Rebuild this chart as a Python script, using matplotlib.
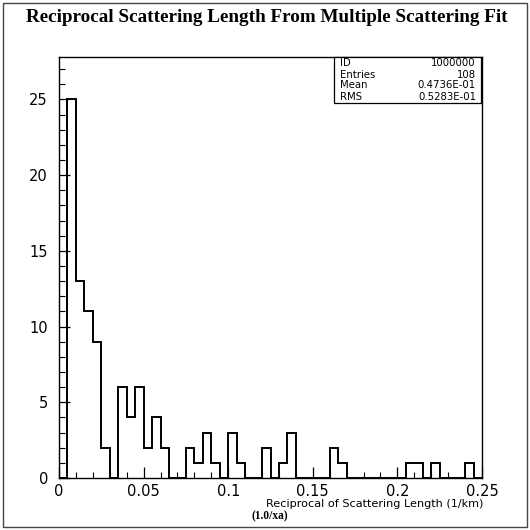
import numpy as np
import matplotlib.pyplot as plt
from matplotlib.patches import Rectangle

# contenido de cada bin (ancho 0.005, de 0 a 0.25)
cuentas = [0, 25, 13, 11, 9, 2, 0, 6, 4, 6,
           2, 4, 2, 0, 0, 2, 1, 3, 1, 0,
           3, 1, 0, 0, 2, 0, 1, 3, 0, 0,
           0, 0, 2, 1, 0, 0, 0, 0, 0, 0,
           0, 1, 1, 0, 1, 0, 0, 0, 1, 0]
x_min, x_max = 0.0, 0.25
etiquetas_x = ['0', '0.05', '0.1', '0.15', '0.2', '0.25']
ticks_x = [0, 0.05, 0.1, 0.15, 0.2, 0.25]
ticks_y = [0, 5, 10, 15, 20, 25]
estadisticas = [('ID', '1000000'), ('Entries', '108'),
                ('Mean', '0.4736E-01'), ('RMS', '0.5283E-01')]

W = 530.0
fig = plt.figure(figsize=(5.3, 5.3), dpi=100)
fig.patch.set_facecolor('white')

# marco exterior
fig.add_artist(Rectangle((3 / W, 3 / W), 524 / W, 524 / W, transform=fig.transFigure,
                         fill=False, edgecolor='#444444', linewidth=1.0))

ax = fig.add_axes([59 / W, 1 - 478 / W, 423 / W, 421 / W])
bordes = np.linspace(x_min, x_max, len(cuentas) + 1)
ax.stairs(cuentas, bordes, color='black', linewidth=1.4, baseline=None)

ax.set_xlim(x_min, x_max)
ax.set_ylim(0, 27.8)
ax.set_xticks(ticks_x)
ax.set_xticklabels(etiquetas_x)
ax.set_xticks(np.arange(0, 0.2501, 0.01), minor=True)
ax.set_yticks(ticks_y)
ax.set_yticks(np.arange(0, 28, 1), minor=True)
ax.tick_params(which='major', direction='in', length=8, width=0.9, labelsize=10.5, pad=4)
ax.tick_params(axis='y', which='major', pad=8)
ax.tick_params(which='minor', direction='in', length=4, width=0.8)
ax.tick_params(top=False, right=False, which='both')
for lado in ax.spines.values():
    lado.set_linewidth(1.0)

# titulo
fig.text(0.5 + 2 / W, 1 - 18 / W, 'Reciprocal Scattering Length From Multiple Scattering Fit',
         ha='center', va='center', fontsize=13.8, fontweight='bold', family='Liberation Serif')

# etiqueta del eje x
fig.text(483 / W, 1 - 504 / W, 'Reciprocal of Scattering Length (1/km)',
         ha='right', va='center', fontsize=8.1, family='DejaVu Sans')
fig.text(252 / W, 1 - 516 / W, '(1.0/xa)', ha='left', va='center',
         fontsize=8.3, fontweight='bold', family='Liberation Serif')

# caja de estadisticas
x0, x1, y0, y1 = 334 / W, 481 / W, 1 - 57 / W, 1 - 103 / W
fig.add_artist(Rectangle((x0, y1), x1 - x0, y0 - y1, transform=fig.transFigure,
                         fill=True, facecolor='white', edgecolor='black', linewidth=0.9))
for i, (nombre, valor) in enumerate(estadisticas):
    y = y0 - (6.5 + i * 11) / W
    fig.text(x0 + 6 / W, y, nombre, ha='left', va='center', fontsize=7.3, family='DejaVu Sans')
    fig.text(x1 - 5 / W, y, valor, ha='right', va='center', fontsize=7.3, family='DejaVu Sans')

fig.savefig('out.png', dpi=100)
